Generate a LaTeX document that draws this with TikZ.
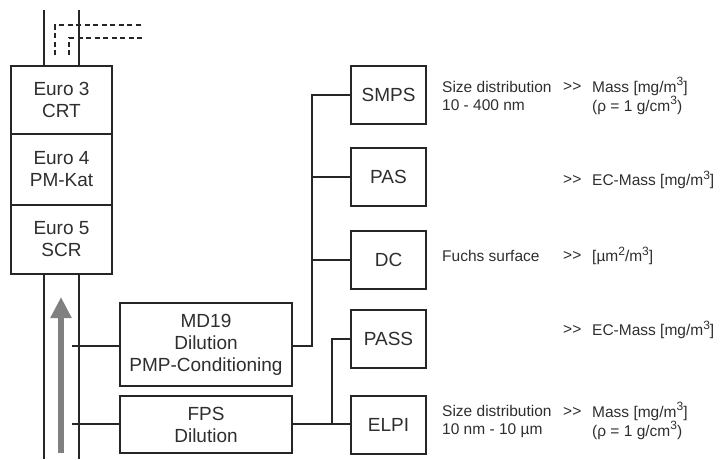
\documentclass[tikz,border=0pt]{standalone}
\usepackage{fontspec}
\setmainfont{Liberation Sans}
\usetikzlibrary{arrows.meta}
\definecolor{ink}{HTML}{262626}
\definecolor{txt}{HTML}{2e2e2e}
\definecolor{arrowgray}{HTML}{808080}
\newcommand{\supnum}[1]{\raisebox{0.42em}{\fontsize{12}{12}\selectfont #1}}
\newcommand{\gtgt}{>{}>}
\tikzset{
  box/.style={draw=ink, line width=1.9pt, fill=white, align=center, text=txt,
    font=\fontsize{19}{22}\selectfont, inner sep=0pt},
  conn/.style={draw=ink, line width=1.9pt},
  pipe/.style={draw=ink, line width=1.9pt},
  dashline/.style={draw=ink, line width=1.6pt, dash pattern=on 5pt off 3.5pt},
  note/.style={anchor=west, align=left, text=txt, inner sep=0pt,
    font=\fontsize{15.5}{18}\selectfont},
}
\begin{document}
\begin{tikzpicture}[x=1pt,y=-1pt]
\useasboundingbox (0,0) rectangle (723,459);
% pipe
\draw[pipe] (44,10) -- (44,66);
\draw[pipe] (79,10) -- (79,66);
\draw[pipe] (44,274) -- (44,459);
\draw[pipe] (79,274) -- (79,459);
% dashed lines
\draw[dashline] (55,55) -- (55,25) -- (143,25);
\draw[dashline] (69,55) -- (69,38) -- (143,38);
% Euro boxes
\node[box, minimum width=101pt, minimum height=68pt] (e3) at (61.5,100) {Euro 3\\CRT};
\node[box, minimum width=101pt, minimum height=71pt] (e4) at (61.5,169.5) {Euro 4\\PM-Kat};
\node[box, minimum width=101pt, minimum height=69pt] (e5) at (61.5,239.5) {Euro 5\\SCR};
% gray arrow
\coordinate (atail) at (61,453);
\coordinate (ahead) at (61,297);
\draw[arrowgray, line width=6pt, -{Triangle[length=21pt,width=20pt]}] (atail) -- (ahead);
% conditioning boxes
\node[box, minimum width=172pt, minimum height=83pt] (md) at (206,344.5) {MD19\\Dilution\\PMP-Conditioning};
\node[box, minimum width=172pt, minimum height=57pt] (fps) at (206,424.5) {FPS\\Dilution};
\coordinate (tapmd) at (72,346);
\coordinate (tapfps) at (72,424);
\draw[conn] (tapmd) -- (md.west |- tapmd);
\draw[conn] (tapfps) -- (fps.west |- tapfps);
% instruments
\node[box, minimum width=75pt, minimum height=58pt] (smps) at (388.5,95) {SMPS};
\node[box, minimum width=75pt, minimum height=58pt] (pas) at (388.5,177) {PAS};
\node[box, minimum width=75pt, minimum height=58pt] (dc) at (388.5,260) {DC};
\node[box, minimum width=75pt, minimum height=58pt] (pass) at (388.5,339) {PASS};
\node[box, minimum width=75pt, minimum height=58pt] (elpi) at (388.5,425) {ELPI};
% connectors MD19
\coordinate (bmd) at (312,346);
\draw[conn] (md.east |- bmd) -- (bmd) -- (bmd |- smps.west) -- (smps.west);
\draw[conn] (bmd |- pas.west) -- (pas.west);
\draw[conn] (bmd |- dc.west) -- (dc.west);
% connectors FPS
\coordinate (bfps) at (332,424);
\draw[conn] (fps.east |- bfps) -- (elpi.west |- bfps);
\draw[conn] (bfps) -- (bfps |- pass.west) -- (pass.west);
% notes
\node[note] (n1) at (442,96) {Size distribution\\10 - 400 nm};
\node[note] (g1) at (563,87) {\gtgt};
\node[note] (r1) at (592,96) {Mass [mg/m\supnum{3}]\\(ρ = 1 g/cm\supnum{3})};
\node[note] (g2) at (563,180) {\gtgt};
\node[note] (r2) at (592,180) {EC-Mass [mg/m\supnum{3}]};
\node[note] (n3) at (442,256) {Fuchs surface};
\node[note] (g3) at (563,256) {\gtgt};
\node[note] (r3) at (592,256) {[µm\supnum{2}/m\supnum{3}]};
\node[note] (g4) at (563,330) {\gtgt};
\node[note] (r4) at (592,330) {EC-Mass [mg/m\supnum{3}]};
\node[note] (n5) at (442,421) {Size distribution\\10 nm - 10 µm};
\node[note] (g5) at (563,412) {\gtgt};
\node[note] (r5) at (592,421) {Mass [mg/m\supnum{3}]\\(ρ = 1 g/cm\supnum{3})};
\end{tikzpicture}
\end{document}
